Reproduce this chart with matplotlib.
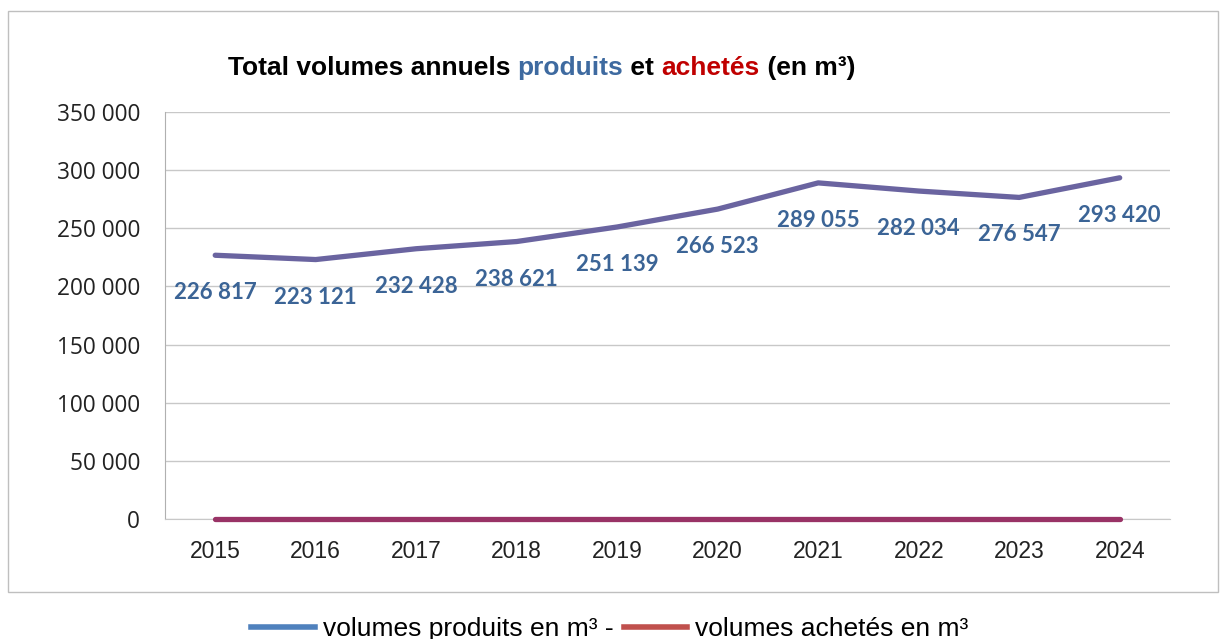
import matplotlib.pyplot as plt
from matplotlib.patches import Rectangle
from matplotlib.lines import Line2D
import numpy as np

years = ['2015', '2016', '2017', '2018', '2019', '2020', '2021', '2022', '2023', '2024']
produits = [226817, 223121, 232428, 238621, 251139, 266523, 289055, 282034, 276547, 293420]
achetes = [0, 0, 0, 0, 0, 0, 0, 0, 0, 0]
y_ticks = [0, 50000, 100000, 150000, 200000, 250000, 300000, 350000]

NARROW = ['Liberation Sans Narrow', 'Liberation Sans', 'DejaVu Sans']


def fmt(v):
    return f"{v:,.0f}".replace(',', ' ')


fig = plt.figure(figsize=(12.22, 6.39), dpi=100)
ax = fig.add_axes([0.135, 0.1878, 0.8224, 0.6369])

# outer chart frame
fig.patches.append(Rectangle((0.0066, 0.0736), 0.990, 0.909, transform=fig.transFigure,
                             fill=False, edgecolor='#BFBFBF', linewidth=1.0))

x = np.arange(len(years))
ax.plot(x, achetes, color='#993366', linewidth=3.8, solid_capstyle='round',
        zorder=3, clip_on=False)
ax.plot(x, produits, color='#6A64A0', linewidth=3.8, solid_capstyle='round',
        zorder=4, clip_on=False)

# data labels below the points
for xi, v in zip(x, produits):
    ax.annotate(fmt(v), (xi, v), xytext=(0, -27), textcoords='offset points',
                ha='center', va='center', fontsize=16, fontweight='bold',
                family='Lato', color='#3B6496')

ax.set_xlim(-0.5, len(years) - 0.5)
ax.set_ylim(0, 350000)
ax.set_yticks(y_ticks)
ax.set_yticklabels([fmt(v) for v in y_ticks], family='Open Sans', fontsize=16.3, color='#222222')
ax.set_xticks(x)
ax.set_xticklabels(years, family=NARROW, fontsize=16.5, color='#222222')
ax.tick_params(axis='both', length=0)
ax.tick_params(axis='y', pad=18)
ax.tick_params(axis='x', pad=15)
ax.grid(axis='y', color='#C8C8C8', linewidth=1.0)
ax.set_axisbelow(True)
for s in ['top', 'right']:
    ax.spines[s].set_visible(False)
ax.spines['left'].set_color('#B0B0B0')
ax.spines['bottom'].set_color('#C8C8C8')

# title built from coloured pieces
pieces = [('Total volumes annuels ', 'black'), ('produits', '#3E6AA0'),
          (' et ', 'black'), ('achetés', '#C00000'), (' (en m³)', 'black')]
fig.canvas.draw()
renderer = fig.canvas.get_renderer()
texts = []
xpos = 0.0
for s, c in pieces:
    t = fig.text(xpos, 0.893, s, color=c, fontsize=19, fontweight='bold',
                 family=NARROW, va='center', ha='left')
    texts.append(t)
    xpos += t.get_window_extent(renderer).width / fig.bbox.width
start = 0.443 - xpos / 2
for t in texts:
    t.set_x(t.get_position()[0] + start)

handles = [Line2D([], [], color='#4F81BD', linewidth=4),
           Line2D([], [], color='#C0504D', linewidth=4)]
fig.legend(handles, ['volumes produits en m³ -', 'volumes achetés en m³'],
           loc='center', bbox_to_anchor=(0.499, 0.015), ncol=2, frameon=False,
           prop={'family': NARROW, 'size': 19}, handlelength=2.4,
           handletextpad=0.3, columnspacing=0.4)

fig.savefig('out.png', dpi=100)
